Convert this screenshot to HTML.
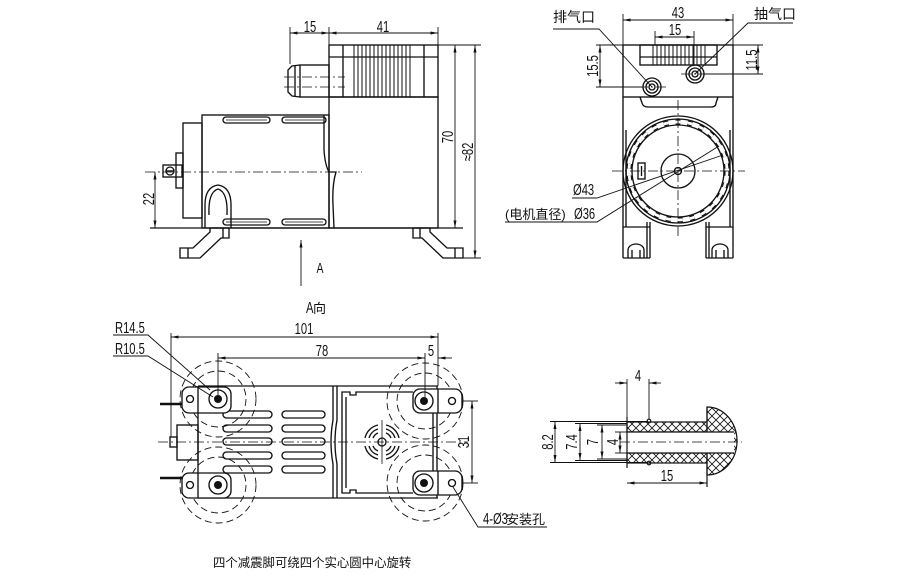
<!DOCTYPE html>
<html><head><meta charset="utf-8"><style>
html,body{margin:0;padding:0;background:#fff;width:900px;height:581px;overflow:hidden}
svg{display:block}
text{font-family:"Liberation Sans","Noto Sans CJK SC",sans-serif;fill:#111}
.d{font-size:16px}
.c{font-family:"Liberation Sans","Noto Sans CJK SC",sans-serif;font-size:14px}
</style></head><body>
<svg width="900" height="581" viewBox="0 0 900 581" xmlns="http://www.w3.org/2000/svg">
<defs>
<marker id="a" viewBox="0 0 10 4" refX="10" refY="2" markerWidth="8" markerHeight="3" markerUnits="userSpaceOnUse" orient="auto-start-reverse"><path d="M0,0 L10,2 L0,4 z" fill="#111"/></marker>
<pattern id="h" width="8" height="8" patternUnits="userSpaceOnUse"><path d="M0,0 L8,8 M8,0 L0,8" stroke="#111" stroke-width="0.8"/></pattern>
</defs>
<rect width="900" height="581" fill="#fff"/>

<!-- ================= SIDE VIEW ================= -->
<g stroke="#111" stroke-width="1.35" fill="none">
  <rect x="329" y="45" width="109" height="52"/>
  <line x1="329" y1="57" x2="438" y2="57"/>
  <line x1="343" y1="45" x2="343" y2="97"/>
  <line x1="424" y1="45" x2="424" y2="97"/>
  <path d="M354,45V97M358,45V97M362,45V97M366,45V97M370,45V97M374,45V97M378,45V97M382,45V97M386,45V97M390,45V97M394,45V97M398,45V97M402,45V97M406,45V97M410,45V97" stroke-width="1"/>
  <rect x="329" y="97" width="109" height="131"/>
  <rect x="300" y="65" width="29" height="32"/>
  <path d="M300,65 L292,66 L288,70 L288,92 L292,96 L300,97"/>
  <line x1="295" y1="66" x2="295" y2="96"/>
  <rect x="202" y="115" width="127" height="113"/>
  <rect x="183" y="123" width="19" height="95"/>
  <rect x="176" y="153" width="7" height="35"/>
  <rect x="163" y="165" width="19" height="12"/>
  <circle cx="170" cy="171" r="4"/>
  <line x1="166" y1="171" x2="174" y2="171"/>
  <rect x="223" y="117" width="47" height="6" rx="3"/>
  <rect x="282" y="117" width="44" height="6" rx="3"/>
  <rect x="223" y="219" width="47" height="6" rx="3"/>
  <rect x="282" y="219" width="44" height="6" rx="3"/>
  <line x1="226" y1="120" x2="267" y2="120" stroke-width="0.8"/>
  <line x1="285" y1="120" x2="323" y2="120" stroke-width="0.8"/>
  <line x1="226" y1="222" x2="267" y2="222" stroke-width="0.8"/>
  <line x1="285" y1="222" x2="323" y2="222" stroke-width="0.8"/>
  <path d="M205,228 L205,205 Q205,187 218,185 Q231,187 231,205 L231,228"/>
  <path d="M209,215 Q208,192 218,189 Q228,192 227,215"/>
  <path d="M324,115 L324,150 Q325,165 329,172 L336,172 Q332,185 333,205 L334,228"/>
  <line x1="150" y1="228" x2="463" y2="228"/>
  <path d="M210,228 L229,228 L229,238 L221,238 L200,258 L180,258 L180,248 L193,248 L210,232 Z"/>
  <line x1="223" y1="228" x2="223" y2="238"/>
  <line x1="188" y1="248" x2="188" y2="258"/>
  <path d="M413,228 L430,228 L430,232 L447,248 L463,248 L463,258 L443,258 L422,238 L413,238 Z"/>
  <line x1="420" y1="228" x2="420" y2="238"/>
  <line x1="455" y1="248" x2="455" y2="258"/>
</g>
<g stroke="#111" stroke-width="0.8" fill="none" stroke-dasharray="10 3 2 3">
  <line x1="145" y1="172" x2="362" y2="172"/>
  <line x1="284" y1="77" x2="345" y2="77"/>
  <line x1="284" y1="87" x2="345" y2="87"/>
</g>
<g stroke="#111" stroke-width="0.9" fill="none">
  <line x1="290" y1="27" x2="290" y2="64"/>
  <line x1="329" y1="27" x2="329" y2="45"/>
  <line x1="438" y1="27" x2="438" y2="45"/>
  <line x1="290" y1="33" x2="329" y2="33" marker-start="url(#a)" marker-end="url(#a)"/>
  <line x1="329" y1="33" x2="438" y2="33" marker-start="url(#a)" marker-end="url(#a)"/>
  <line x1="438" y1="45" x2="481" y2="45"/>
  <line x1="463" y1="258" x2="481" y2="258"/>
  <line x1="455" y1="45" x2="455" y2="228" marker-start="url(#a)" marker-end="url(#a)"/>
  <line x1="475" y1="45" x2="475" y2="258" marker-start="url(#a)" marker-end="url(#a)"/>
  <line x1="155" y1="172" x2="155" y2="228" marker-start="url(#a)" marker-end="url(#a)"/>
  <line x1="301" y1="240" x2="301" y2="286" marker-start="url(#a)"/>
</g>
<text class="d" transform="translate(310,32) scale(0.7,1)" text-anchor="middle">15</text>
<text class="d" transform="translate(383,32) scale(0.7,1)" text-anchor="middle">41</text>
<text class="d" transform="translate(453,137) rotate(-90) scale(0.7,1)" text-anchor="middle">70</text>
<text class="d" transform="translate(473,152) rotate(-90) scale(0.7,1)" text-anchor="middle">≈82</text>
<text class="d" transform="translate(154,199) rotate(-90) scale(0.7,1)" text-anchor="middle">22</text>
<text class="d" transform="translate(320,273) scale(0.7,1)" text-anchor="middle" style="font-size:15px">A</text>

<!-- ================= FRONT VIEW ================= -->
<g stroke="#111" stroke-width="1.35" fill="none">
  <rect x="623" y="45" width="110" height="52"/>
  <rect x="640" y="45" width="77" height="20"/>
  <line x1="640" y1="57" x2="717" y2="57"/>
  <path d="M653,45V65M657,45V65M661,45V65M665,45V65M669,45V65M673,45V65M677,45V65M681,45V65M685,45V65M689,45V65M693,45V65M697,45V65M701,45V65M705,45V65" stroke-width="1"/>
  <path d="M640,97 L642,103 Q643,107 648,107 L711,107 Q716,107 716,103 L718,97"/>
  <line x1="623" y1="97" x2="623" y2="258"/>
  <line x1="733" y1="97" x2="733" y2="258"/>
  <line x1="626" y1="130" x2="626" y2="227"/>
  <line x1="730" y1="130" x2="730" y2="227"/>
  <circle cx="652" cy="87" r="9"/>
  <circle cx="652" cy="87" r="6"/>
  <circle cx="652" cy="87" r="3"/>
  <circle cx="695" cy="74" r="9"/>
  <circle cx="695" cy="74" r="6"/>
  <circle cx="695" cy="74" r="3"/>
  <circle cx="678" cy="171" r="55"/>
  <circle cx="678" cy="171" r="52"/>
  <circle cx="678" cy="171" r="46"/>
  <circle cx="678" cy="171" r="49" stroke-width="5" stroke-dasharray="5 7"/>
  <circle cx="678" cy="171" r="49" stroke-width="2.8" stroke="#fff" stroke-dasharray="5 7"/>
  <circle cx="678" cy="171" r="17"/>
  <circle cx="678" cy="171" r="3.5"/>
  <rect x="638" y="163" width="7" height="16" fill="#fff"/>
  <line x1="641.5" y1="166" x2="641.5" y2="176"/>
  <line x1="623" y1="227" x2="650" y2="227"/>
  <line x1="706" y1="227" x2="733" y2="227"/>
  <line x1="647" y1="222" x2="647" y2="258"/>
  <line x1="650" y1="222" x2="650" y2="258"/>
  <line x1="706" y1="222" x2="706" y2="258"/>
  <line x1="709" y1="222" x2="709" y2="258"/>
  <line x1="623" y1="258" x2="650" y2="258"/>
  <line x1="706" y1="258" x2="733" y2="258"/>
  <path d="M628,258 L628,250 A8,6 0 0 1 644,250 L644,258 M632,250V258 M640,250V258"/>
  <path d="M712,258 L712,250 A8,6 0 0 1 728,250 L728,258 M716,250V258 M724,250V258"/>
  <path d="M553,29 L599,29 L652,87" stroke-width="0.9"/>
  <path d="M793,23 L748,23 L695,74" stroke-width="0.9"/>
  <path d="M572,198 L597,198 L723,155" stroke-width="0.9"/>
  <path d="M505,222 L597,222 L719,146" stroke-width="0.9"/>
</g>
<g stroke="#111" stroke-width="0.8" fill="none" stroke-dasharray="10 3 2 3">
  <line x1="612" y1="171" x2="745" y2="171"/>
  <line x1="678" y1="100" x2="678" y2="236"/>
  <line x1="638" y1="87" x2="666" y2="87"/>
  <line x1="681" y1="74" x2="709" y2="74"/>
</g>
<g stroke="#111" stroke-width="0.9" fill="none">
  <line x1="623" y1="14" x2="623" y2="45"/>
  <line x1="733" y1="14" x2="733" y2="45"/>
  <line x1="623" y1="20" x2="733" y2="20" marker-start="url(#a)" marker-end="url(#a)"/>
  <line x1="655" y1="31" x2="655" y2="45"/>
  <line x1="694" y1="31" x2="694" y2="66"/>
  <line x1="655" y1="37" x2="694" y2="37" marker-start="url(#a)" marker-end="url(#a)"/>
  <line x1="596" y1="45" x2="623" y2="45"/>
  <line x1="596" y1="87" x2="643" y2="87"/>
  <line x1="600" y1="45" x2="600" y2="87" marker-start="url(#a)" marker-end="url(#a)"/>
  <line x1="733" y1="45" x2="763" y2="45"/>
  <line x1="704" y1="74" x2="763" y2="74"/>
  <line x1="758" y1="45" x2="758" y2="74" marker-start="url(#a)" marker-end="url(#a)"/>
</g>
<text class="d" transform="translate(678,18) scale(0.7,1)" text-anchor="middle">43</text>
<text class="d" transform="translate(675,35) scale(0.7,1)" text-anchor="middle">15</text>
<text class="d" transform="translate(598,66) rotate(-90) scale(0.7,1)" text-anchor="middle">15.5</text>
<text class="d" transform="translate(757,60) rotate(-90) scale(0.7,1)" text-anchor="middle">11.5</text>
<text class="c" x="553" y="22">排气口</text>
<text class="c" x="754" y="19">抽气口</text>
<text class="d" transform="translate(573,195) scale(0.7,1)">Ø43</text>
<text class="c" x="505" y="219" style="font-size:13px">(电机直径)</text>
<text class="d" transform="translate(574,219) scale(0.7,1)">Ø36</text>

<!-- ================= BOTTOM VIEW ================= -->
<text class="d" transform="translate(306,313) scale(0.7,1)">A</text>
<text class="c" x="313" y="313" style="font-size:13px">向</text>
<g stroke="#111" stroke-width="0.9" fill="none" stroke-dasharray="7 4">
  <circle cx="218" cy="399" r="38"/><circle cx="218" cy="399" r="28"/>
  <circle cx="218" cy="485" r="38"/><circle cx="218" cy="485" r="28"/>
  <circle cx="425" cy="401" r="38"/><circle cx="425" cy="401" r="28"/>
  <circle cx="425" cy="483" r="38"/><circle cx="425" cy="483" r="28"/>
</g>
<g stroke="#111" stroke-width="1.35" fill="none">
  <line x1="198" y1="386" x2="438" y2="386"/>
  <line x1="198" y1="498" x2="438" y2="498"/>
  <line x1="198" y1="386" x2="198" y2="498"/>
  <line x1="437" y1="386" x2="437" y2="498"/>
  <line x1="433" y1="413" x2="433" y2="471"/>
  <rect x="177" y="425" width="21" height="35"/>
  <rect x="170" y="437" width="7" height="10"/>
  <rect x="223" y="411" width="49" height="7" rx="3.5"/>
  <rect x="223" y="425" width="49" height="7" rx="3.5"/>
  <rect x="223" y="438" width="49" height="7" rx="3.5"/>
  <rect x="223" y="452" width="49" height="7" rx="3.5"/>
  <rect x="223" y="466" width="49" height="7" rx="3.5"/>
  <rect x="282" y="411" width="43" height="7" rx="3.5"/>
  <rect x="282" y="425" width="43" height="7" rx="3.5"/>
  <rect x="282" y="438" width="43" height="7" rx="3.5"/>
  <rect x="282" y="452" width="43" height="7" rx="3.5"/>
  <rect x="282" y="466" width="43" height="7" rx="3.5"/>
  <path d="M333,386 L333,420 Q329,442 333,464 L333,498"/>
  <path d="M337,386 L337,420 Q333,442 337,464 L337,498"/>
  <path d="M413,392 L356,392 L356,395 L350,395 L350,392 L342,392 L342,493 L350,493 L350,490 L356,490 L356,493 L413,493"/>
  <line x1="346" y1="397" x2="346" y2="488"/>
  <path d="M365,438 A17,17 0 0 1 378,425 M386,425 A17,17 0 0 1 399,438 M399,446 A17,17 0 0 1 386,459 M378,459 A17,17 0 0 1 365,446"/>
  <path d="M369,438 A13,13 0 0 1 378,429 M386,429 A13,13 0 0 1 395,438 M395,446 A13,13 0 0 1 386,455 M378,455 A13,13 0 0 1 369,446"/>
  <path d="M373,438 A9,9 0 0 1 378,433 M386,433 A9,9 0 0 1 391,438 M391,446 A9,9 0 0 1 386,451 M378,451 A9,9 0 0 1 373,446"/>
  <circle cx="382" cy="442" r="4"/>
  <line x1="382" y1="420" x2="382" y2="464" stroke-width="0.8"/>
  <rect x="182" y="387" width="49" height="26" rx="7" fill="#fff"/>
  <rect x="182" y="473" width="49" height="25" rx="7" fill="#fff"/>
  <rect x="413" y="389" width="49" height="24" rx="7" fill="#fff"/>
  <rect x="413" y="471" width="49" height="24" rx="7" fill="#fff"/>
  <line x1="198" y1="387" x2="198" y2="413"/>
  <line x1="198" y1="473" x2="198" y2="498"/>
  <line x1="438" y1="389" x2="438" y2="413"/>
  <line x1="438" y1="471" x2="438" y2="495"/>
  <circle cx="218" cy="399" r="9"/><circle cx="218" cy="485" r="9"/>
  <circle cx="424" cy="401" r="9"/><circle cx="424" cy="483" r="9"/>
  <circle cx="190" cy="399" r="3.5"/><circle cx="190" cy="485" r="3.5"/>
  <circle cx="452" cy="401" r="3.5"/><circle cx="452" cy="483" r="3.5"/>
  <line x1="160" y1="404" x2="182" y2="404" stroke-width="2.5"/>
  <line x1="160" y1="478" x2="182" y2="478" stroke-width="2.5"/>
</g>
<g fill="#111">
  <circle cx="218" cy="399" r="4"/><circle cx="218" cy="485" r="4"/>
  <circle cx="424" cy="401" r="4"/><circle cx="424" cy="483" r="4"/>
</g>
<g stroke="#111" stroke-width="0.8" fill="none" stroke-dasharray="10 3 2 3">
  <line x1="158" y1="442" x2="468" y2="442"/>
</g>
<g stroke="#111" stroke-width="0.9" fill="none">
  <line x1="171" y1="333" x2="171" y2="437"/>
  <line x1="438" y1="333" x2="438" y2="386"/>
  <line x1="171" y1="337" x2="438" y2="337" marker-start="url(#a)" marker-end="url(#a)"/>
  <line x1="218" y1="353" x2="218" y2="395"/>
  <line x1="425" y1="353" x2="425" y2="397"/>
  <line x1="218" y1="358" x2="425" y2="358" marker-start="url(#a)" marker-end="url(#a)"/>
  <line x1="438" y1="358" x2="452" y2="358" marker-start="url(#a)"/>
  <line x1="462" y1="401" x2="478" y2="401"/>
  <line x1="462" y1="483" x2="478" y2="483"/>
  <line x1="472" y1="401" x2="472" y2="483" marker-start="url(#a)" marker-end="url(#a)"/>
  <path d="M113,335 L148,335 L210,390"/>
  <path d="M113,356 L148,356 L213,397"/>
  <path d="M453,487 L478,527 L547,527"/>
</g>
<text class="d" transform="translate(115,333) scale(0.7,1)">R14.5</text>
<text class="d" transform="translate(115,354) scale(0.7,1)">R10.5</text>
<text class="d" transform="translate(304,334) scale(0.7,1)" text-anchor="middle">101</text>
<text class="d" transform="translate(322,356) scale(0.7,1)" text-anchor="middle">78</text>
<text class="d" transform="translate(431,356) scale(0.7,1)" text-anchor="middle">5</text>
<text class="d" transform="translate(469,442) rotate(-90) scale(0.7,1)" text-anchor="middle">31</text>
<text class="d" transform="translate(483,524) scale(0.7,1)">4-Ø3</text>
<text class="c" x="506" y="524" style="font-size:13px">安装孔</text>
<text class="c" x="213" y="567" style="font-size:12.4px">四个减震脚可绕四个实心圆中心旋转</text>

<!-- ================= HOSE DETAIL ================= -->
<g stroke="#111" stroke-width="1.2">
  <rect x="627" y="422" width="80" height="10" fill="url(#h)"/>
  <rect x="627" y="453" width="80" height="10" fill="url(#h)"/>
  <path d="M707,407 A30,34 0 0 1 707,475 Z" fill="url(#h)"/>
  <rect x="627" y="432" width="107" height="21" fill="#fff" stroke="none"/>
  <line x1="627" y1="432" x2="734" y2="432"/>
  <line x1="627" y1="453" x2="734" y2="453"/>
</g>
<g stroke="#111" stroke-width="1.2" fill="none">
  <line x1="627" y1="417" x2="627" y2="468"/>
  <line x1="707" y1="407" x2="707" y2="422"/>
  <line x1="707" y1="463" x2="707" y2="487"/>
  <circle cx="649" cy="421" r="1.8"/>
  <circle cx="649" cy="463" r="1.8"/>
</g>
<g stroke="#111" stroke-width="0.8" fill="none" stroke-dasharray="10 3 2 3">
  <line x1="620" y1="442" x2="742" y2="442"/>
</g>
<g stroke="#111" stroke-width="0.9" fill="none">
  <line x1="627" y1="379" x2="627" y2="417"/>
  <line x1="649" y1="379" x2="649" y2="419"/>
  <line x1="615" y1="383" x2="627" y2="383" marker-end="url(#a)"/>
  <line x1="661" y1="383" x2="649" y2="383" marker-end="url(#a)"/>
  <line x1="550" y1="421.5" x2="647" y2="421.5"/>
  <line x1="550" y1="462.5" x2="647" y2="462.5"/>
  <line x1="575" y1="423.5" x2="627" y2="423.5"/>
  <line x1="575" y1="460.5" x2="627" y2="460.5"/>
  <line x1="597" y1="425" x2="627" y2="425"/>
  <line x1="597" y1="459" x2="627" y2="459"/>
  <line x1="615" y1="432" x2="627" y2="432"/>
  <line x1="615" y1="453" x2="627" y2="453"/>
  <line x1="555" y1="421.5" x2="555" y2="462.5" marker-start="url(#a)" marker-end="url(#a)"/>
  <line x1="580" y1="423.5" x2="580" y2="460.5" marker-start="url(#a)" marker-end="url(#a)"/>
  <line x1="602" y1="425" x2="602" y2="459" marker-start="url(#a)" marker-end="url(#a)"/>
  <line x1="620" y1="432" x2="620" y2="453" marker-start="url(#a)" marker-end="url(#a)"/>
  <line x1="627" y1="483" x2="707" y2="483" marker-start="url(#a)" marker-end="url(#a)"/>
</g>
<text class="d" transform="translate(638,381) scale(0.7,1)" text-anchor="middle">4</text>
<text class="d" transform="translate(553,442) rotate(-90) scale(0.7,1)" text-anchor="middle">8.2</text>
<text class="d" transform="translate(577,442) rotate(-90) scale(0.7,1)" text-anchor="middle">7.4</text>
<text class="d" transform="translate(598,442) rotate(-90) scale(0.7,1)" text-anchor="middle">7</text>
<text class="d" transform="translate(618,442) rotate(-90) scale(0.7,1)" text-anchor="middle">4</text>
<text class="d" transform="translate(667,481) scale(0.7,1)" text-anchor="middle">15</text>
</svg>
</body></html>
